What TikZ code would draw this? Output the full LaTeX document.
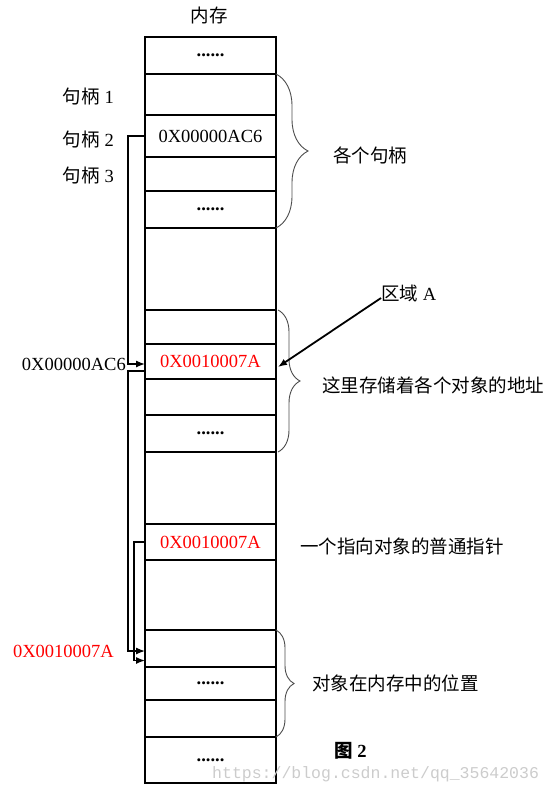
\documentclass[tikz,border=0pt]{standalone}
\usepackage{fontspec}
\setmainfont{Liberation Serif}
\newfontfamily\cjk{Noto Sans CJK SC}
\newfontfamily\wmfont{Liberation Mono}
\usetikzlibrary{arrows.meta,decorations.pathreplacing}
\newcommand{\gapdots}{\textbf{......}}
\newcommand{\redaddr}{\textcolor{red}{0X0010007A}}

\begin{document}
\begin{tikzpicture}[x=1pt,y=-1pt,>={Latex[length=9pt,width=7pt]},
  cell/.style={draw,line width=1.3pt,anchor=north west,minimum width=131pt,inner sep=0pt,outer sep=0pt,font=\fontsize{18.5}{20}\selectfont},
  lbl/.style={inner sep=0pt,font=\fontsize{18.5}{20}\selectfont},
  link/.style={->,line width=1.3pt},
  hbrace/.style={decorate,decoration={brace,amplitude=#1},line width=0.9pt,black!70}]
  \useasboundingbox (0,0) rectangle (552,793);
  \node[lbl] (mem) at (209,15) {\cjk 内存};
  % memory cells: name/top/height/content
  \foreach \name/\top/\hgt/\txt in {c0/37/37/\gapdots, c1/74/41/, c2/115/42/0X00000AC6, c3/157/34/, c4/191/37/\gapdots,
      c5/228/82/, c6/310/34/, c7/344/35/\redaddr, c8/379/36/, c9/415/37/\gapdots,
      c10/452/72/, c11/524/36/\redaddr, c12/560/70/, c13/630/37/, c14/667/33/\gapdots,
      c15/700/37/, c16/737/46/\gapdots}
    \node[cell,minimum height=\hgt pt] (\name) at (145,\top) {\txt};
  \node[lbl,anchor=east] (h1) at (114,97) {{\cjk 句柄} 1};
  \node[lbl,anchor=east] (h2) at (114,140) {{\cjk 句柄} 2};
  \node[lbl,anchor=east] (h3) at (114,176) {{\cjk 句柄} 3};
  \node[lbl,anchor=east] (addr) at (126,364) {0X00000AC6};
  \node[lbl,anchor=east,red] (objaddr) at (114,651) {0X0010007A};
  \draw[link] (c2.west) -- ++(-17,0) |- ([yshift=-2.5pt]c7.west);
  \draw[link] ([yshift=-9.5pt]c7.west) -- ++(-17,0) |- ([yshift=-2.5pt]c13.west);
  \draw[link] (c11.west) -- ++(-11,0) |- ([yshift=-12pt]c13.west);
  % braces and their texts
  \draw[hbrace=32] (c1.north east) -- (c4.south east);
  \node[lbl,anchor=west] (handles) at (333,155) {\cjk 各个句柄};
  \draw[hbrace=22] ([xshift=2pt]c6.north east) -- ([xshift=2pt]c9.south east);
  \node[lbl,anchor=west] (table) at (322,385) {\cjk 这里存储着各个对象的地址};
  \node[lbl,anchor=west] (ptr) at (300,546) {\cjk 一个指向对象的普通指针};
  \draw[hbrace=18] (c13.north east) -- (c15.south east);
  \node[lbl,anchor=west] (obj) at (312,683) {\cjk 对象在内存中的位置};
  \node[lbl,anchor=west] (areaA) at (381,293) {{\cjk 区域} A};
  \draw[->,line width=1.8pt] ([yshift=-5pt]areaA.west) -- ([xshift=2pt,yshift=-5.5pt]c7.east);
  \node[lbl,anchor=west] (fig) at (334,751) {\bfseries{\cjk 图} 2};
  \node[anchor=west,inner sep=0pt,font=\wmfont\fontsize{16.5}{18}\selectfont,black!20] (wm) at (212,774) {https://blog.csdn.net/qq\_35642036};
\end{tikzpicture}
\end{document}
